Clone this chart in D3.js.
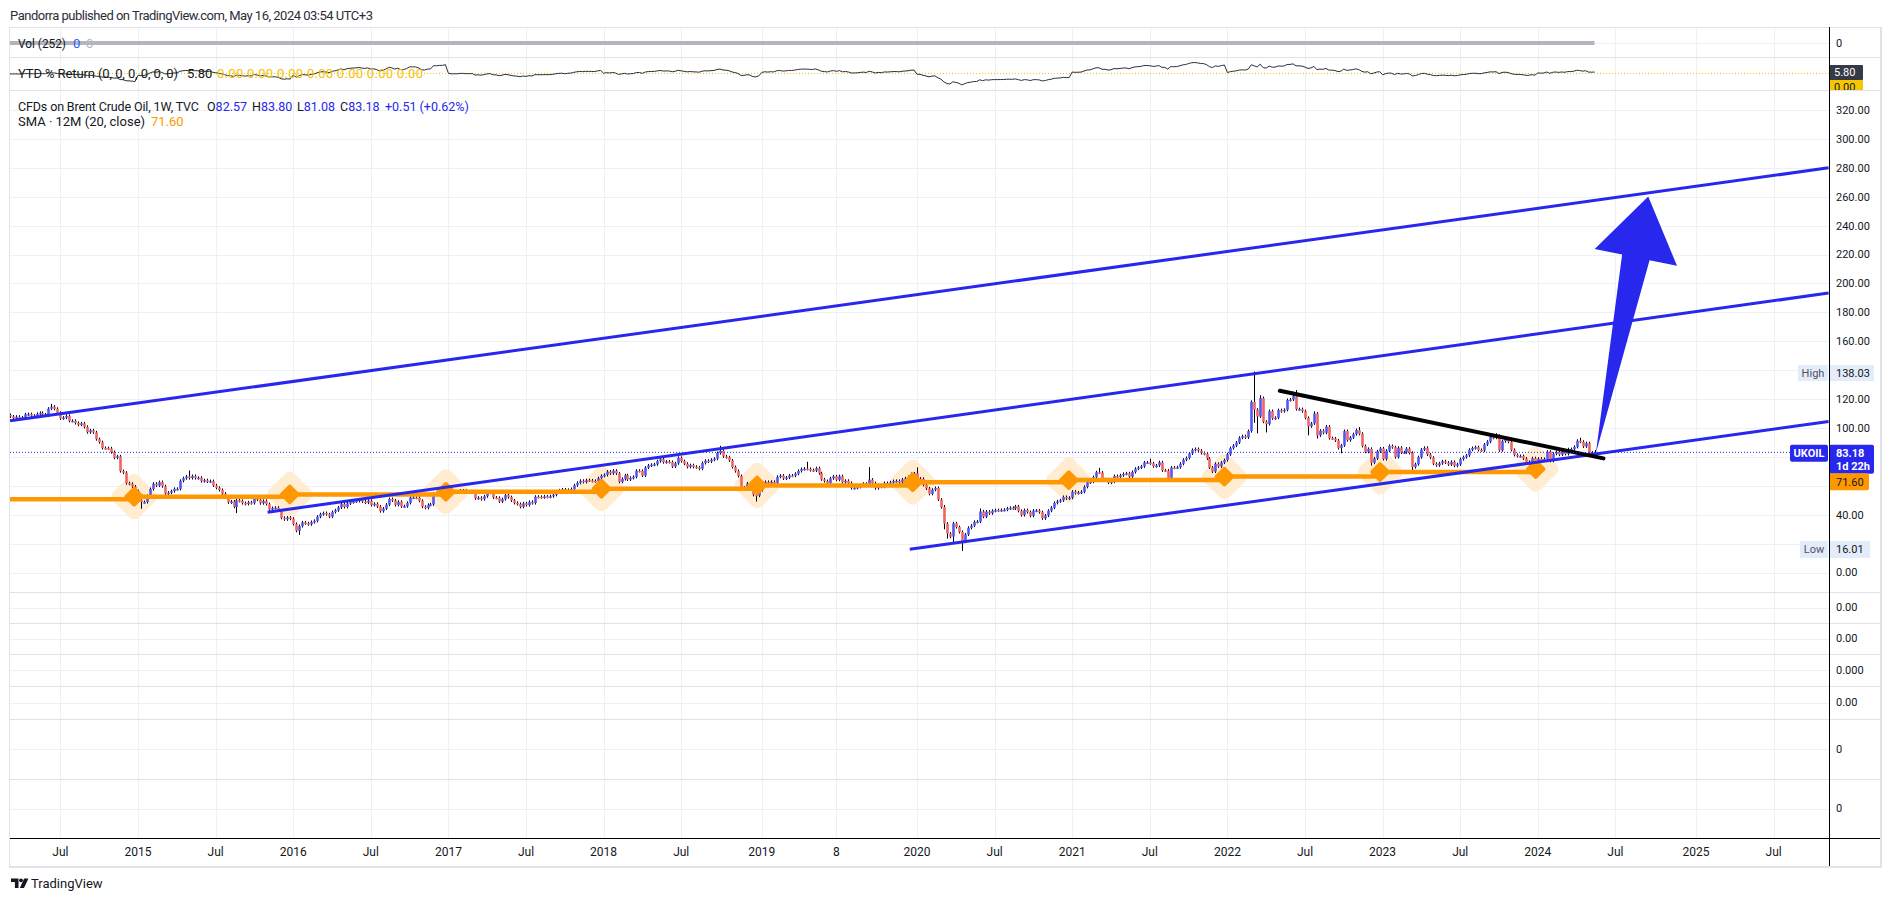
<!DOCTYPE html>
<html><head><meta charset="utf-8">
<script src="https://cdn.jsdelivr.net/npm/d3@7"></script>
<style>
html,body{margin:0;padding:0;background:#fff;}
svg{display:block;font-family:Roboto,"Liberation Sans",Arial,sans-serif;}
</style></head><body>
<svg id="c" width="1891" height="901"></svg>
<script>
// ================= DATA =================
const startWeek2014 = "2014-03-03";
const firstOpen = 109.3;
const close2013 = 110.8;
const closes2014 = [109.0,108.0,106.9,107.8,106.7,107.3,109.5,109.6,108.6,107.9,109.8,110.5,109.4,108.6,113.4,114.8,113.3,110.6,106.7,107.2,108.4,105.0,105.0,103.5,102.3,103.2,100.8,97.1,98.4,97.0,92.3,90.2,86.2,86.1,85.9,83.4,79.4,80.4,70.2,69.1,61.9,61.4,59.5,56.4];
const closes2015 = [50.1,48.8,48.8,53.0,57.8,61.5,60.2,62.6,59.7,54.7,55.3,56.4,57.9,57.9,63.5,65.3,66.5,65.4,66.8,65.4,65.6,63.3,63.9,63.0,63.3,60.3,58.7,57.1,54.6,52.2,48.6,49.2,45.5,50.1,49.6,48.1,47.5,48.6,48.1,52.7,50.5,48.0,49.6,47.4,43.6,44.7,44.9,43.0,37.9,36.9,38.1,37.3];
const closes2016 = [33.6,28.9,32.2,34.7,34.1,33.4,35.0,35.8,38.7,40.4,41.2,40.4,38.7,41.9,43.1,45.1,47.4,45.4,47.8,48.7,49.3,49.6,50.5,49.2,48.4,49.7,46.8,47.6,45.7,42.5,44.3,47.0,50.9,49.9,46.8,49.0,45.8,45.9,48.2,51.9,51.9,51.8,49.7,45.6,44.8,46.9,47.2,54.5,54.3,55.2,55.2,56.8];
const closes2017 = [57.1,55.5,55.5,55.5,56.8,56.7,55.8,56.0,55.9,51.4,51.8,50.8,52.8,55.2,55.9,52.0,51.7,49.1,50.8,53.6,52.2,49.9,48.2,47.4,45.5,47.9,46.7,48.9,48.1,52.5,52.4,52.1,52.7,52.4,52.8,53.8,55.6,56.9,57.5,55.6,57.2,57.8,60.4,62.1,63.5,62.7,63.9,63.7,63.4,63.2,65.3,66.9];
const closes2018 = [67.6,69.9,68.6,70.5,68.6,62.8,64.8,67.3,64.4,65.5,66.2,70.5,70.3,67.1,72.6,74.1,74.6,74.9,77.1,78.5,76.4,76.8,76.5,73.4,75.6,79.4,77.1,75.3,73.1,74.3,73.2,72.8,71.8,75.8,77.4,76.8,78.1,78.8,82.7,84.2,80.4,79.8,77.6,73.0,70.2,66.8,58.8,58.7,61.7,60.3,53.8,53.2,57.1];
const closes2019 = [60.5,62.7,61.6,62.8,62.1,66.3,67.1,65.1,65.7,67.2,67.0,68.4,70.3,71.6,71.9,71.7,70.9,70.6,72.2,68.7,64.5,63.3,62.0,65.2,66.6,64.2,66.7,62.5,63.5,62.0,58.5,58.6,59.3,60.4,61.5,60.2,64.3,61.9,58.4,60.5,59.4,62.0,61.7,62.5,63.3,63.4,62.4,64.4,65.2,66.1,68.2,68.6];
const closes2020 = [65.0,64.9,60.7,58.2,54.5,57.3,58.5,50.5,45.3,33.9,27.0,24.9,34.1,31.5,28.1,21.4,26.4,31.0,32.5,35.1,35.3,42.3,38.7,42.2,41.0,42.8,43.2,43.1,43.3,43.5,44.4,44.8,44.4,45.8,42.7,39.8,43.2,41.9,39.3,42.9,42.9,41.8,37.5,39.5,42.8,44.9,48.2,49.3,50.0,52.3,51.3,51.8];
const closes2021 = [56.0,55.1,55.4,55.9,59.3,62.4,62.9,66.1,69.4,69.2,64.5,64.6,62.2,62.9,66.8,66.1,67.3,68.3,68.7,66.4,69.6,71.9,72.7,73.5,76.2,76.2,75.6,73.6,74.1,76.3,70.7,70.6,65.2,72.7,72.6,72.9,75.3,78.1,79.3,82.4,84.9,85.5,84.4,82.7,82.2,78.9,72.7,69.9,75.2,73.5,76.1,77.8];
const closes2022 = [81.8,86.1,87.9,90.0,93.3,94.4,93.5,97.9,118.1,112.7,108.0,120.7,104.4,102.8,111.7,106.7,107.1,112.4,111.6,112.6,119.4,119.7,122.0,113.1,113.1,111.6,107.0,101.2,103.2,110.0,94.9,98.2,96.7,101.0,93.0,92.8,91.4,86.2,88.0,97.9,91.6,93.5,95.8,98.6,96.0,87.6,83.6,85.6,76.1,79.0,83.9,85.9];
const closes2023 = [78.6,84.3,87.6,86.7,79.9,86.4,83.0,83.2,85.8,82.8,73.0,75.0,79.8,85.1,86.3,81.7,79.5,75.3,74.2,75.6,77.0,76.1,74.8,76.6,73.9,74.9,78.5,79.9,81.1,85.0,86.2,86.8,84.8,84.5,88.6,90.6,93.9,93.3,94.6,84.6,90.9,92.2,90.5,84.9,81.4,80.6,80.6,78.9,75.8,76.6,79.1,77.0];
const closes2024 = [78.8,78.3,78.6,83.6,77.3,82.2,83.5,81.6,83.6,82.1,85.3,85.4,87.0,91.2,90.5,87.3,89.5,83.0,82.67,83.18];

const wickExtremes = [
 {d:"2014-06-16",h:115.7},{d:"2015-01-12",l:45.2},{d:"2015-05-04",h:69.6},{d:"2015-08-24",l:42.2},
 {d:"2016-01-18",l:27.1},{d:"2016-10-10",h:53.7},{d:"2018-10-01",h:86.7},{d:"2018-12-24",l:50.2},
 {d:"2019-04-22",h:75.6},{d:"2019-09-16",h:71.95},{d:"2020-01-06",h:71.75},{d:"2020-03-09",h:45.7,l:31.0},
 {d:"2020-03-16",l:24.5},{d:"2020-03-30",l:21.6},{d:"2020-04-20",l:16.01},{d:"2020-06-01",h:43.4},
 {d:"2021-03-08",h:71.4},{d:"2021-07-05",h:77.8},{d:"2022-03-07",h:138.03,l:104.6},{d:"2022-03-14",l:97.4},
 {d:"2022-03-21",h:121.6},{d:"2022-04-04",l:98.0},{d:"2022-06-06",h:124.0},{d:"2022-06-13",h:125.2},
 {d:"2022-07-11",l:96.0},{d:"2022-07-25",h:110.5},{d:"2022-08-01",l:93.8},{d:"2022-09-26",l:83.6},
 {d:"2022-11-07",h:99.6},{d:"2022-12-05",l:75.1},{d:"2023-03-13",l:71.4},{d:"2023-09-25",h:95.4},
 {d:"2023-12-11",l:72.3},{d:"2024-04-08",h:92.2},{d:"2024-05-13",h:83.80,l:81.08}
];

// SMA 12M (20, close) yearly values
const smaYears  = [2014,2015,2016,2017,2018,2019,2020,2021,2022,2023,2024];
const smaValues = [50.7,52.5,54.1,55.9,58.0,60.3,62.5,64.0,66.4,69.6,71.6];

// Drawings (date, price anchors)
const channelLines = [
 {d0:"2014-03-11",p0:105.0,d1:"2025-11-13",p1:280.0},
 {d0:"2015-11-05",p0:41.8, d1:"2025-11-13",p1:193.4},
 {d0:"2019-12-20",p0:16.1, d1:"2025-11-13",p1:104.5}
];
const resistanceLine = {d0:"2022-05-06",p0:125.8,d1:"2024-06-03",p1:79.0};
const arrowDrawing = {d0:"2024-05-16",p0:82.4,d1:"2024-09-16",p1:260.1};

// Axis ticks / labels
const priceTickValues = [0,20,40,60,80,100,120,140,160,180,200,220,240,260,280,300,320];
const timeTickMonths = ["2014-07","2015-01","2015-07","2016-01","2016-07","2017-01","2017-07","2018-01","2018-07","2019-01","2019-07","2020-01","2020-07","2021-01","2021-07","2022-01","2022-07","2023-01","2023-07","2024-01","2024-07","2025-01","2025-07"];
const timeTickLabels = ["Jul","2015","Jul","2016","Jul","2017","Jul","2018","Jul","2019","8","2020","Jul","2021","Jul","2022","Jul","2023","Jul","2024","Jul","2025","Jul"];
const extraPaneLabels = ["0.00","0.00","0.000","0.00","0","0"];

const headerText = "Pandorra published on TradingView.com, May 16, 2024 03:54 UTC+3";
const lastBar = {o:"82.57",h:"83.80",l:"81.08",c:"83.18",chg:"+0.51 (+0.62%)",price:83.18};
const smaLast = 71.60, highVal = 138.03, lowVal = 16.01;

(function(){
// ================= LAYOUT =================
const L = 10, R = 1829, AXR = 1880;
const volTop = 27, ytdTop = 57, mainTop = 90, mainBottom = 592;
const paneEdges = [592,623,654,686,719,779,838];
const taTop = 838, taBottom = 866;
const UP = "#5557f4", DOWN = "#ef6464", BLUE = "#2727ee", ORANGE = "#ff9800", TXT = "#131722";
const GRID = "#eef0f3", SEP = "#dfe2e8";

const parse = d3.timeParse("%Y-%m-%d");
const fmtD = d3.timeFormat("%Y-%m-%d");
const x = d3.scaleTime().domain([parse("2015-01-05"), parse("2025-01-06")]).range([138, 1696]);
const yMain = d3.scaleLinear().domain([0, 320]).range([572.6, 110.0]);
const yVol = d3.scaleLinear().domain([-1, 1]).range([57, 29]);
const yYtd = d3.scaleLinear().domain([-100, 100]).range([90.1, 56.7]);

const yearly = [[2014,closes2014],[2015,closes2015],[2016,closes2016],[2017,closes2017],[2018,closes2018],[2019,closes2019],[2020,closes2020],[2021,closes2021],[2022,closes2022],[2023,closes2023],[2024,closes2024]];
const candles = [];
let prev = firstOpen;
let base = close2013;
yearly.forEach(([yr, arr], yi) => {
  const start = yr === 2014 ? parse(startWeek2014) : d3.timeMonday.ceil(new Date(yr, 0, 1));
  if (yi > 0) base = prev;
  arr.forEach((c, i) => {
    const d = d3.timeMonday.offset(start, i);
    candles.push({date: d, o: prev, c: c, h: Math.max(prev, c), l: Math.min(prev, c), ytd: (c / base - 1) * 100});
    prev = c;
  });
});
const byDate = new Map(candles.map(k => [fmtD(k.date), k]));
wickExtremes.forEach(w => {
  const k = byDate.get(w.d);
  if (!k) return;
  if (w.h != null) k.h = Math.max(k.h, w.h);
  if (w.l != null) k.l = Math.min(k.l, w.l);
});

const svg = d3.select("#c");
const defs = svg.append("defs");
defs.append("clipPath").attr("id","clipMain").append("rect").attr("x",L).attr("y",mainTop).attr("width",R-L).attr("height",mainBottom-mainTop);
defs.append("clipPath").attr("id","clipTop").append("rect").attr("x",L).attr("y",volTop).attr("width",R-L).attr("height",mainTop-volTop);
defs.append("clipPath").attr("id","clipYtdAxis").append("rect").attr("x",R).attr("y",ytdTop).attr("width",AXR-R).attr("height",mainTop-ytdTop);

// ---------- header ----------
svg.append("text").attr("x",10).attr("y",19.5).attr("font-size",13).attr("fill","#2a2e39")
  .attr("textLength",363).attr("lengthAdjust","spacing").text(headerText);

// ---------- grids ----------
const timeTicks = timeTickMonths.map((m, i) => {
  const [yy, mm] = m.split("-").map(Number);
  return {date: d3.timeMonday.ceil(new Date(yy, mm - 1, 1)), label: timeTickLabels[i]};
});
const g = svg.append("g");
g.selectAll("line.vg").data(timeTicks).join("line").attr("class","vg")
  .attr("x1",d=>Math.round(x(d.date))+0.5).attr("x2",d=>Math.round(x(d.date))+0.5)
  .attr("y1",volTop).attr("y2",taTop).attr("stroke",GRID).attr("stroke-width",1);
g.selectAll("line.hg").data(priceTickValues).join("line").attr("class","hg")
  .attr("x1",L).attr("x2",R).attr("y1",d=>Math.round(yMain(d))+0.5).attr("y2",d=>Math.round(yMain(d))+0.5)
  .attr("stroke",GRID);
const extraPanes = extraPaneLabels.map((lab,i)=>({top:paneEdges[i],bottom:paneEdges[i+1],label:lab}));
extraPanes.forEach(p=>{ p.scale = d3.scaleLinear().domain([-1,1]).range([p.bottom,p.top]); });
g.selectAll("line.pg").data(extraPanes).join("line").attr("class","pg")
  .attr("x1",L).attr("x2",R).attr("y1",d=>Math.round(d.scale(0))+0.5).attr("y2",d=>Math.round(d.scale(0))+0.5).attr("stroke",GRID);
g.append("line").attr("x1",L).attr("x2",R).attr("y1",Math.round(yVol(0))+0.5).attr("y2",Math.round(yVol(0))+0.5).attr("stroke",GRID);

const sepYs = [volTop, ytdTop, mainTop].concat(paneEdges.slice(0,-1));
g.selectAll("line.sep").data(sepYs).join("line").attr("class","sep")
  .attr("x1",L).attr("x2",AXR).attr("y1",d=>d+0.5).attr("y2",d=>d+0.5).attr("stroke",SEP);
g.append("line").attr("x1",L-0.5).attr("x2",L-0.5).attr("y1",volTop).attr("y2",taBottom).attr("stroke",SEP);
g.append("line").attr("x1",AXR+1).attr("x2",AXR+1).attr("y1",volTop).attr("y2",taBottom+1).attr("stroke",SEP).attr("stroke-width",2);
g.append("line").attr("x1",L-1).attr("x2",AXR+2).attr("y1",taBottom+1).attr("y2",taBottom+1).attr("stroke",SEP).attr("stroke-width",2);

// ---------- top panes ----------
const topG = svg.append("g").attr("clip-path","url(#clipTop)");
topG.append("path").datum(candles)
  .attr("d", d3.line().x(d=>x(d.date)).y(()=>yVol(0)))
  .attr("stroke","#b2b5be").attr("stroke-width",4).attr("fill","none");
topG.append("line").attr("x1",L).attr("x2",R).attr("y1",yYtd(0)).attr("y2",yYtd(0))
  .attr("stroke","#f2c200").attr("stroke-width",1).attr("stroke-dasharray","1,2");
topG.append("path").datum(candles)
  .attr("d", d3.line().x(d=>x(d.date)).y(d=>yYtd(d.ytd)))
  .attr("stroke","#2a2e39").attr("stroke-width",1).attr("fill","none");

const lgd = svg.append("g").attr("font-size",13).attr("fill",TXT);
lgd.append("text").attr("x",18).attr("y",47.5).attr("textLength",48).attr("lengthAdjust","spacingAndGlyphs").text("Vol (252)");
lgd.append("text").attr("x",73).attr("y",47.5).attr("fill","#2962ff").text("0");
lgd.append("text").attr("x",86).attr("y",47.5).attr("fill","#b2b5be").text("0");
lgd.append("text").attr("x",18).attr("y",77.5).attr("textLength",160).attr("lengthAdjust","spacing").text("YTD % Return (0, 0, 0, 0, 0, 0)");
lgd.append("text").attr("x",187).attr("y",77.5).text("5.80");
lgd.append("text").attr("x",217).attr("y",77.5).attr("fill","#f2c200").attr("textLength",206).attr("lengthAdjust","spacing").text("0.00 0.00 0.00 0.00 0.00 0.00 0.00");

// ---------- main pane ----------
const mainG = svg.append("g").attr("clip-path","url(#clipMain)");
const smaPts = smaYears.map((yr,i)=>({date: parse(`${yr-1}-12-27`), v: smaValues[i]}));

mainG.append("g").selectAll("rect").data(smaPts).join("rect")
  .attr("x",-18).attr("y",-18).attr("width",36).attr("height",36).attr("rx",7)
  .attr("transform",d=>`translate(${x(d.date)},${yMain(d.v)}) rotate(45)`)
  .attr("fill","#ffecd1");

const cg = mainG.append("g");
cg.selectAll("line").data(candles).join("line")
  .attr("x1",d=>Math.round(x(d.date))+0.5).attr("x2",d=>Math.round(x(d.date))+0.5)
  .attr("y1",d=>yMain(d.h)-1.5).attr("y2",d=>yMain(d.l)+1.5)
  .attr("stroke","#000").attr("stroke-width",1);
cg.selectAll("rect").data(candles).join("rect")
  .attr("x",d=>Math.round(x(d.date))-0.8).attr("width",2.6)
  .attr("y",d=>yMain(Math.max(d.o,d.c)))
  .attr("height",d=>Math.max(1.5, yMain(Math.min(d.o,d.c)) - yMain(Math.max(d.o,d.c))))
  .attr("fill",d=>d.c>=d.o?UP:DOWN);

mainG.append("path").datum(smaPts)
  .attr("d", d3.line().curve(d3.curveStepAfter).x(d=>x(d.date)).y(d=>yMain(d.v)))
  .attr("stroke",ORANGE).attr("stroke-width",4.5).attr("fill","none");
mainG.append("g").selectAll("rect").data(smaPts).join("rect")
  .attr("x",-7.5).attr("y",-7.5).attr("width",15).attr("height",15).attr("rx",2)
  .attr("transform",d=>`translate(${x(d.date)},${yMain(d.v)}) rotate(45)`)
  .attr("fill",ORANGE);

mainG.append("g").selectAll("line").data(channelLines).join("line")
  .attr("x1",d=>x(parse(d.d0))).attr("y1",d=>yMain(d.p0))
  .attr("x2",d=>x(parse(d.d1))).attr("y2",d=>yMain(d.p1))
  .attr("stroke",BLUE).attr("stroke-width",3);
mainG.append("line")
  .attr("x1",x(parse(resistanceLine.d0))).attr("y1",yMain(resistanceLine.p0))
  .attr("x2",x(parse(resistanceLine.d1))).attr("y2",yMain(resistanceLine.p1))
  .attr("stroke","#000").attr("stroke-width",4).attr("stroke-linecap","round");
(function(){
  const sx = x(parse(arrowDrawing.d0)), sy = yMain(arrowDrawing.p0);
  const tx = x(parse(arrowDrawing.d1)), ty = yMain(arrowDrawing.p1);
  const len = Math.hypot(tx-sx, ty-sy), ux = (tx-sx)/len, uy = (ty-sy)/len;
  const px = -uy, py = ux;
  const headLen = 62, shaftHW = 14, wingHW = 42;
  const hx = tx - headLen*ux, hy = ty - headLen*uy;
  const pts = [[sx,sy],[hx+shaftHW*px,hy+shaftHW*py],[hx+wingHW*px,hy+wingHW*py],[tx,ty],[hx-wingHW*px,hy-wingHW*py],[hx-shaftHW*px,hy-shaftHW*py]];
  mainG.append("path").attr("d","M"+pts.map(p=>p.join(",")).join("L")+"Z").attr("fill",BLUE);
})();

svg.append("line").attr("x1",L).attr("x2",1790).attr("y1",yMain(lastBar.price)).attr("y2",yMain(lastBar.price))
  .attr("stroke",BLUE).attr("stroke-width",1).attr("stroke-dasharray","1,2");

// main legend
const lg2 = svg.append("g").attr("font-size",12.5).attr("fill",TXT);
lg2.append("text").attr("x",18).attr("y",111).attr("textLength",181).attr("lengthAdjust","spacing").text("CFDs on Brent Crude Oil, 1W, TVC");
const ohlc = [["O",lastBar.o,207],["H",lastBar.h,252],["L",lastBar.l,297],["C",lastBar.c,340]];
ohlc.forEach(([k,v,kx])=>{
  const t = lg2.append("text").attr("x",kx).attr("y",111);
  t.append("tspan").text(k);
  t.append("tspan").attr("fill",BLUE).text(v);
});
lg2.append("text").attr("x",385).attr("y",111).attr("fill",BLUE).text(lastBar.chg);
lgd.append("text").attr("x",18).attr("y",126).text("SMA · 12M (20, close)");
lgd.append("text").attr("x",151).attr("y",126).attr("fill",ORANGE).text(smaLast.toFixed(2));

// ---------- price axis ----------
const py0 = yMain(lastBar.price), hy = yMain(highVal), ly = yMain(lowVal);
const labelBoxes = [[hy-8,hy+8],[py0-7.5,py0+38],[ly-8.5,ly+8.5]];
const visibleTicks = priceTickValues.filter(v => {
  const yy = yMain(v);
  return !labelBoxes.some(([a,b]) => yy > a - 6 && yy < b + 6);
});
const ax = svg.append("g").attr("font-size",11).attr("fill",TXT);
ax.selectAll("text.pt").data(visibleTicks).join("text").attr("class","pt")
  .attr("x",1836).attr("y",d=>yMain(d)).attr("dy","0.35em").text(d=>d3.format(".2f")(d));
ax.selectAll("text.xp").data(extraPanes).join("text").attr("class","xp")
  .attr("x",1836).attr("y",d=>d.scale(0)).attr("dy","0.35em").text(d=>d.label);
ax.append("text").attr("x",1836).attr("y",yVol(0)).attr("dy","0.35em").text("0");
const ytdAx = svg.append("g").attr("clip-path","url(#clipYtdAxis)");
ytdAx.append("rect").attr("x",R).attr("y",80).attr("width",34).attr("height",15).attr("fill","#f7c600");
ytdAx.append("text").attr("x",1834).attr("y",87.5).attr("dy","0.35em").attr("font-size",11).attr("fill",TXT).text("0.00");
svg.append("rect").attr("x",R).attr("y",65).attr("width",34).attr("height",15).attr("rx",1).attr("fill","#363a45");
svg.append("text").attr("x",1834).attr("y",72.5).attr("dy","0.35em").attr("font-size",11).attr("fill","#fff").text("5.80");

svg.append("rect").attr("x",1798).attr("y",hy-8).attr("width",30).attr("height",16).attr("fill","#e3ecfb");
svg.append("text").attr("x",1813).attr("y",hy).attr("dy","0.35em").attr("text-anchor","middle").attr("font-size",11).attr("fill","#50535e").text("High");
svg.append("rect").attr("x",R+1).attr("y",hy-8).attr("width",44).attr("height",16).attr("fill","#e3ecfb");
svg.append("text").attr("x",1836).attr("y",hy).attr("dy","0.35em").attr("font-size",11).attr("fill",TXT).text(highVal.toFixed(2));
svg.append("rect").attr("x",1800).attr("y",ly-8.5).attr("width",28).attr("height",17).attr("fill","#e3ecfb");
svg.append("text").attr("x",1814).attr("y",ly).attr("dy","0.35em").attr("text-anchor","middle").attr("font-size",11).attr("fill","#50535e").text("Low");
svg.append("rect").attr("x",R+1).attr("y",ly-8.5).attr("width",40).attr("height",17).attr("fill","#e3ecfb");
svg.append("text").attr("x",1836).attr("y",ly).attr("dy","0.35em").attr("font-size",11).attr("fill",TXT).text(lowVal.toFixed(2));
svg.append("rect").attr("x",1790).attr("y",py0-7.5).attr("width",38).attr("height",17).attr("rx",2).attr("fill",BLUE);
svg.append("text").attr("x",1809).attr("y",py0+1).attr("dy","0.35em").attr("text-anchor","middle").attr("font-size",11).attr("font-weight",700).attr("fill","#fff").text("UKOIL");
svg.append("rect").attr("x",R).attr("y",py0-7.5).attr("width",45).attr("height",29).attr("rx",2).attr("fill",BLUE);
svg.append("text").attr("x",1836).attr("y",py0+1).attr("dy","0.35em").attr("font-size",11).attr("font-weight",700).attr("fill","#fff").text(lastBar.c);
svg.append("text").attr("x",1836).attr("y",py0+14).attr("dy","0.35em").attr("font-size",11).attr("font-weight",700).attr("fill","#fff").text("1d 22h");
svg.append("rect").attr("x",R).attr("y",py0+21).attr("width",40).attr("height",17).attr("rx",2).attr("fill",ORANGE);
svg.append("text").attr("x",1836).attr("y",py0+29.5).attr("dy","0.35em").attr("font-size",11).attr("fill",TXT).text(smaLast.toFixed(2));

svg.append("line").attr("x1",R+0.5).attr("x2",R+0.5).attr("y1",volTop).attr("y2",taBottom).attr("stroke","#000");
svg.append("line").attr("x1",L).attr("x2",AXR).attr("y1",taTop+0.5).attr("y2",taTop+0.5).attr("stroke","#000");

// ---------- time axis ----------
svg.append("g").selectAll("text").data(timeTicks).join("text")
  .attr("x",d=>x(d.date)).attr("y",852).attr("dy","0.35em").attr("text-anchor","middle")
  .attr("font-size",12).attr("fill",TXT).text(d=>d.label);

// ---------- footer logo ----------
const lg = svg.append("g").attr("fill","#131722");
lg.append("path").attr("d","M11,878.5 h7.5 v9.5 h-3.6 v-6 h-3.9 z");
lg.append("circle").attr("cx",21).attr("cy",880.3).attr("r",1.9);
lg.append("path").attr("d","M24.2,878.5 h4.2 l-4.4,9.5 h-4.2 z");
svg.append("text").attr("x",31).attr("y",887.5).attr("font-size",13).attr("fill",TXT).text("TradingView");
})();
</script>
</body></html>
